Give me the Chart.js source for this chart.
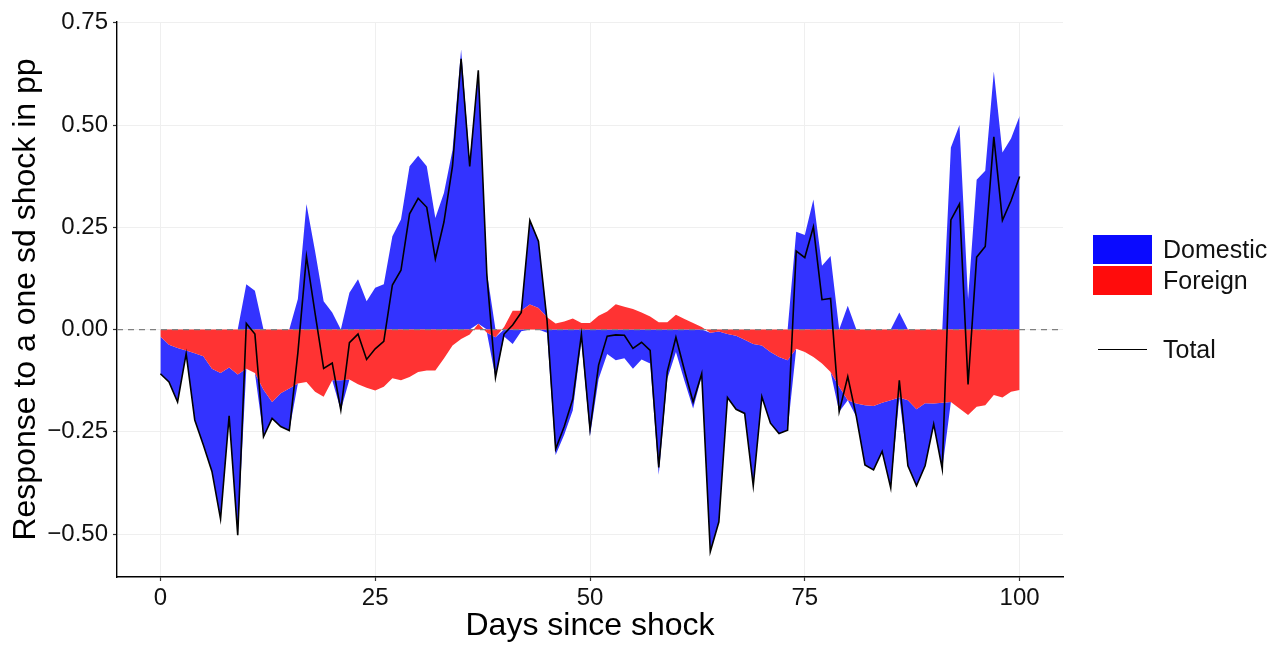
<!DOCTYPE html>
<html>
<head>
<meta charset="utf-8">
<title>Response to a one sd shock</title>
<script src="https://cdn.jsdelivr.net/npm/chart.js@4.4.1/dist/chart.umd.min.js"></script>
<style>
  body { margin: 0; background: #fff; }
  #wrap { position: relative; width: 1280px; height: 645px; font-family: "Liberation Sans", Arial, sans-serif; }
  #chart { position: absolute; left: 0; top: 0; }
  .key { position: absolute; left: 1093px; width: 59px; height: 29px; }
  .lab { position: absolute; left: 1163px; height: 29px; line-height: 29px; font-size: 25px; color: #111; white-space: nowrap; }
  .line { position: absolute; left: 1098px; width: 49px; height: 0; border-top: 1.6px solid #000; }
</style>
</head>
<body>
<div id="wrap">
  <canvas id="chart" width="1280" height="645"></canvas>
  <div class="key" style="top:235px;background:rgb(10,10,255)"></div>
  <div class="lab" style="top:235px">Domestic</div>
  <div class="key" style="top:266px;background:rgb(255,12,12)"></div>
  <div class="lab" style="top:266px">Foreign</div>
  <div class="line" style="top:349px"></div>
  <div class="lab" style="top:335px">Total</div>
</div>
<script>
const days = Array.from({ length: 101 }, (_, i) => i);

const foreign = [
  -0.017, -0.037, -0.045, -0.051, -0.058, -0.065, -0.096, -0.106, -0.093, -0.110,
  -0.096, -0.106, -0.147, -0.177, -0.156, -0.144, -0.132, -0.128, -0.152, -0.164,
  -0.124, -0.124, -0.122, -0.134, -0.142, -0.149, -0.140, -0.119, -0.124, -0.116,
  -0.104, -0.100, -0.100, -0.071, -0.039, -0.023, -0.012, 0.014, -0.008, -0.019,
  0.006, 0.046, 0.046, 0.061, 0.053, 0.030, 0.015, 0.020, 0.027, 0.016,
  0.016, 0.034, 0.044, 0.062, 0.056, 0.050, 0.042, 0.032, 0.018, 0.018,
  0.036, 0.026, 0.016, 0.006, -0.008, -0.005, -0.011, -0.015, -0.025, -0.035,
  -0.039, -0.055, -0.067, -0.075, -0.047, -0.055, -0.067, -0.083, -0.104, -0.140,
  -0.173, -0.181, -0.185, -0.187, -0.179, -0.173, -0.166, -0.173, -0.195, -0.180,
  -0.181, -0.179, -0.177, -0.193, -0.209, -0.189, -0.185, -0.160, -0.166, -0.152,
  -0.148
];

const domestic = [
  -0.091, -0.091, -0.132, -0.008, -0.163, -0.217, -0.251, -0.357, -0.118, -0.393,
  0.111, 0.095, -0.115, -0.040, -0.081, -0.103, 0.075, 0.307, 0.192, 0.069,
  0.042, -0.073, 0.090, 0.123, 0.069, 0.102, 0.111, 0.228, 0.269, 0.399,
  0.425, 0.399, 0.273, 0.334, 0.439, 0.685, 0.411, 0.620, 0.140, -0.098,
  -0.017, -0.035, -0.004, 0.206, 0.163, -0.008, -0.307, -0.257, -0.197, -0.028,
  -0.260, -0.121, -0.060, -0.075, -0.070, -0.096, -0.073, -0.083, -0.355, -0.120,
  -0.055, -0.126, -0.193, -0.114, -0.535, -0.465, -0.155, -0.180, -0.180, -0.347,
  -0.125, -0.174, -0.187, -0.171, 0.239, 0.231, 0.318, 0.156, 0.180, -0.061,
  0.058, -0.032, -0.146, -0.156, -0.119, -0.214, 0.042, -0.160, -0.187, -0.153,
  -0.050, -0.162, 0.445, 0.500, 0.075, 0.366, 0.388, 0.631, 0.433, 0.467,
  0.522
];

const xTicks = [0, 25, 50, 75, 100];
const yTicks = [-0.5, -0.25, 0, 0.25, 0.5, 0.75];

const total = domestic.map((d, i) => d + foreign[i]);

// positive and negative parts stack separately, foreign sits next to zero
const posBase = foreign.map(f => Math.max(f, 0));
const posEdge = domestic.map((d, i) => posBase[i] + Math.max(d, 0));
const negBase = foreign.map(f => Math.min(f, 0));
const negEdge = domestic.map((d, i) => negBase[i] + Math.min(d, 0));

const pts = arr => arr.map((v, i) => ({ x: days[i], y: v }));

const FONT = '"Liberation Sans", Arial, sans-serif';
const BLUE = 'rgb(51,51,255)';
const RED = 'rgb(255,51,51)';
const CLEAR = 'rgba(0,0,0,0)';

// grey dashed reference line at zero, under the total line
const zeroLine = {
  id: 'zeroLine',
  beforeDatasetDraw(chart, args) {
    if (args.index !== 0) return;
    const { ctx, chartArea, scales } = chart;
    const y = scales.y.getPixelForValue(0);
    ctx.save();
    ctx.strokeStyle = '#808080';
    ctx.lineWidth = 1.2;
    ctx.setLineDash([6, 5]);
    ctx.beginPath();
    ctx.moveTo(chartArea.left, y);
    ctx.lineTo(chartArea.right, y);
    ctx.stroke();
    ctx.restore();
  }
};

const area = (label, data, color, fill) => ({
  label, data, fill, backgroundColor: color, borderWidth: 0, borderColor: CLEAR,
  pointRadius: 0, pointHoverRadius: 0, tension: 0
});

new Chart(document.getElementById('chart'), {
  type: 'line',
  data: {
    datasets: [
      { label: 'Total', data: pts(total), borderColor: '#000', borderWidth: 1.6, fill: false,
        pointRadius: 0, pointHoverRadius: 0, tension: 0 },
      area('Foreign', pts(foreign), RED, 'origin'),
      area('Domestic +', pts(posEdge), BLUE, 3),
      area('pos base', pts(posBase), CLEAR, false),
      area('Domestic -', pts(negEdge), BLUE, 5),
      area('neg base', pts(negBase), CLEAR, false)
    ]
  },
  options: {
    responsive: false,
    animation: false,
    devicePixelRatio: 1,
    layout: { padding: { left: 0, right: 217, top: 22, bottom: 0 } },
    plugins: { legend: { display: false }, tooltip: { enabled: false } },
    scales: {
      x: {
        type: 'linear',
        min: -5.05,
        max: 105.05,
        afterBuildTicks: s => { s.ticks = xTicks.map(v => ({ value: v })); },
        afterFit: s => { s.height = 68; },
        grid: { color: '#EFEFEF', lineWidth: 1, tickLength: 4, tickColor: '#333', tickWidth: 1.2 },
        border: { color: '#000', width: 1.4 },
        ticks: { font: { family: FONT, size: 24 }, color: '#111', padding: 3, maxRotation: 0, autoSkip: false,
                 callback: v => String(v) },
        title: { display: true, text: 'Days since shock', color: '#000',
                 font: { family: FONT, size: 32 }, padding: { top: 0, bottom: 0 } }
      },
      y: {
        type: 'linear',
        min: -0.605,
        max: 0.752,
        afterBuildTicks: s => { s.ticks = yTicks.map(v => ({ value: v })); },
        afterFit: s => { s.width = 117; },
        grid: { color: '#EFEFEF', lineWidth: 1, tickLength: 4, tickColor: '#333', tickWidth: 1.2 },
        border: { color: '#000', width: 1.4 },
        ticks: { font: { family: FONT, size: 24 }, color: '#111', padding: 5, autoSkip: false,
                 callback: v => (v < 0 ? '\u2212' : '') + Math.abs(v).toFixed(2) },
        title: { display: true, text: 'Response to a one sd shock in pp', color: '#000',
                 font: { family: FONT, size: 32 }, padding: { top: 7, bottom: 0 } }
      }
    }
  },
  plugins: [zeroLine]
});
</script>
</body>
</html>
